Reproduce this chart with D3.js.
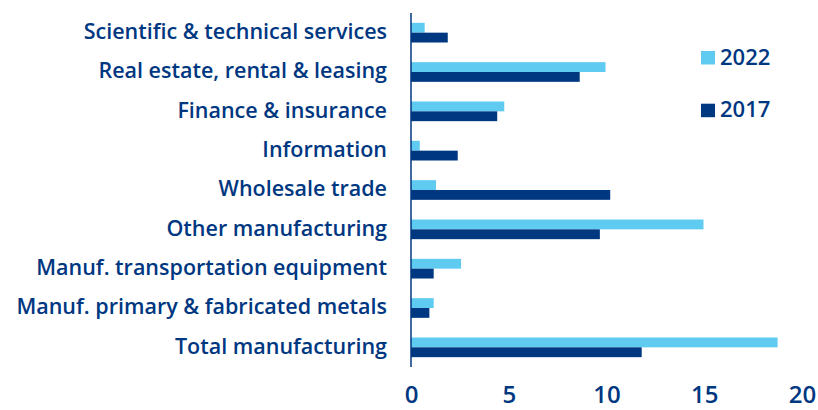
<!DOCTYPE html>
<html><head><meta charset="utf-8">
<script src="https://cdn.jsdelivr.net/npm/d3@7"></script>
<style>body{margin:0;background:#fff}svg{display:block}</style>
</head><body>
<script>
const categories = ["Scientific & technical services","Real estate, rental & leasing","Finance & insurance","Information","Wholesale trade","Other manufacturing","Manuf. transportation equipment","Manuf. primary & fabricated metals","Total manufacturing"];
const values2022 = [0.7, 9.95, 4.77, 0.45, 1.28, 14.96, 2.56, 1.16, 18.75];
const values2017 = [1.88, 8.63, 4.41, 2.39, 10.19, 9.66, 1.16, 0.94, 11.8];
const series = ["2022","2017"];
const xTicks = [0,5,10,15,20];

const W=818,H=410;
const navy="#003781", light="#5FCBF1";
const font="'Open Sans', 'Noto Sans', sans-serif";
const svg=d3.select("body").append("svg").attr("width",W).attr("height",H);

const x=d3.scaleLinear().domain([0,20]).range([411,802]);
const y=d3.scaleBand().domain(categories).range([13,367]).paddingInner(0.5).paddingOuter(0.25);
const sub=d3.scaleBand().domain(series).range([0,y.bandwidth()]);
const color=d3.scaleOrdinal().domain(series).range([light,navy]);
const vals={"2022":values2022,"2017":values2017};

const g=svg.append("g");
categories.forEach((c,i)=>{
  series.forEach(s=>{
    g.append("rect").attr("x",x(0)).attr("y",y(c)+sub(s)).attr("width",x(vals[s][i])-x(0)).attr("height",sub.bandwidth()).attr("fill",color(s));
  });
});

// y axis line + labels
const yAxis=d3.axisLeft(y).tickSize(0).tickPadding(24);
const ya=svg.append("g").attr("transform",`translate(${x(0)},0)`).call(yAxis);
ya.select(".domain").attr("stroke",navy).attr("stroke-width",1.5).attr("d",`M0,13V367`);
ya.selectAll("text").attr("fill",navy).attr("font-family",font).attr("font-size",21.5).attr("font-weight",600).attr("dy","0.3em");

// x axis labels
const xAxis=d3.axisBottom(x).tickValues(xTicks).tickSize(0).tickPadding(0);
const xa=svg.append("g").attr("transform",`translate(0,386)`).call(xAxis);
xa.select(".domain").remove();
xa.selectAll("text").attr("fill",navy).attr("font-family",font).attr("font-size",24).attr("font-weight",600).attr("dy","0.72em");

// legend
const leg=svg.append("g");
series.forEach((s,i)=>{
  const yy=51+i*52.7;
  leg.append("rect").attr("x",701).attr("y",yy).attr("width",14).attr("height",13.5).attr("fill",color(s));
  leg.append("text").attr("x",720).attr("y",yy+13.5).attr("fill",navy).attr("font-family",font).attr("font-size",22).attr("font-weight",600).text(s);
});
</script>
</body></html>
